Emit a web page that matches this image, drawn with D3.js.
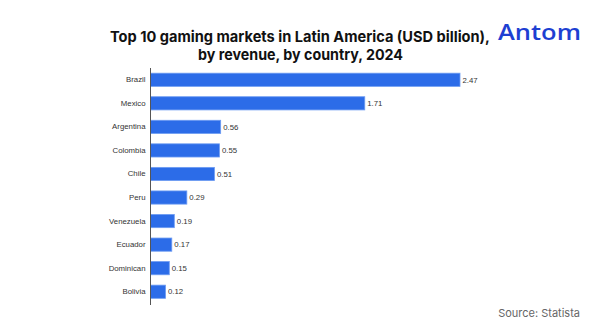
<!DOCTYPE html>
<html>
<head>
<meta charset="utf-8">
<script src="https://cdn.jsdelivr.net/npm/d3@7"></script>
<style>
  html, body { margin: 0; padding: 0; background: #fff; }
  svg { display: block; }
</style>
</head>
<body>
<div id="chart"></div>
<script>
var countries = ["Brazil", "Mexico", "Argentina", "Colombia", "Chile", "Peru", "Venezuela", "Ecuador", "Dominican", "Bolivia"];
var revenue = [2.47, 1.71, 0.56, 0.55, 0.51, 0.29, 0.19, 0.17, 0.15, 0.12];

var titleLines = ["Top 10 gaming markets in Latin America (USD billion),", "by revenue, by country, 2024"];
var sourceText = "Source: Statista";

var width = 600, height = 332;
var barColor = "#2c6ce8";
var labelFont = "'Liberation Sans', Arial, sans-serif";

var svg = d3.select("#chart")
    .append("svg")
    .attr("width", width)
    .attr("height", height);

var data = countries.map(function (c, i) {
    return { country: c, value: revenue[i] };
});

var x = d3.scaleLinear()
    .domain([0, 2.47])
    .range([150.5, 460]);

var y = d3.scaleBand()
    .domain(countries)
    .range([68, 303.5])
    .paddingInner(0.44)
    .paddingOuter(0.22);

// title
svg.append("text")
    .attr("x", 300)
    .attr("y", 42)
    .attr("text-anchor", "middle")
    .attr("font-family", "Inter, 'Open Sans', sans-serif")
    .attr("font-weight", 700)
    .attr("font-size", 15)
    .attr("fill", "#111")
    .attr("textLength", 380)
    .attr("lengthAdjust", "spacingAndGlyphs")
    .text(titleLines[0]);

svg.append("text")
    .attr("x", 300.5)
    .attr("y", 59.5)
    .attr("text-anchor", "middle")
    .attr("font-family", "Inter, 'Open Sans', sans-serif")
    .attr("font-weight", 700)
    .attr("font-size", 15)
    .attr("fill", "#111")
    .attr("textLength", 205)
    .attr("lengthAdjust", "spacingAndGlyphs")
    .text(titleLines[1]);

// logo
svg.append("text")
    .attr("x", 498)
    .attr("y", 40)
    .attr("font-family", "'Open Sans', Lato, sans-serif")
    .attr("font-weight", 600)
    .attr("font-size", 21)
    .attr("fill", "#1e3fd2")
    .attr("textLength", 83)
    .attr("lengthAdjust", "spacingAndGlyphs")
    .text("Antom");

// bars
svg.selectAll("rect.bar")
    .data(data)
    .enter().append("rect")
    .attr("class", "bar")
    .attr("x", x(0))
    .attr("y", function (d) { return y(d.country); })
    .attr("width", function (d) { return x(d.value) - x(0); })
    .attr("height", y.bandwidth())
    .attr("fill", barColor)
    .attr("stroke", "#6d9bf2")
    .attr("stroke-width", 0.8);

// value labels
svg.selectAll("text.value")
    .data(data)
    .enter().append("text")
    .attr("class", "value")
    .attr("x", function (d) { return x(d.value) + 2.5; })
    .attr("y", function (d) { return y(d.country) + y.bandwidth() / 2; })
    .attr("dy", "0.35em")
    .attr("font-family", labelFont)
    .attr("font-size", 7.8)
    .attr("fill", "#333")
    .text(function (d) { return d3.format(".2f")(d.value); });

// category axis
var yAxis = svg.append("g")
    .attr("transform", "translate(150.5,0)")
    .call(d3.axisLeft(y).tickSize(0).tickPadding(5));

yAxis.select(".domain").remove();
yAxis.selectAll("text")
    .attr("font-family", labelFont)
    .attr("font-size", 7.8)
    .attr("fill", "#333");

svg.append("line")
    .attr("x1", 150.5)
    .attr("x2", 150.5)
    .attr("y1", 68)
    .attr("y2", 305)
    .attr("stroke", "#555")
    .attr("stroke-width", 1);

// source
svg.append("text")
    .attr("x", 580)
    .attr("y", 317)
    .attr("text-anchor", "end")
    .attr("font-family", "Inter, 'Open Sans', sans-serif")
    .attr("font-size", 11)
    .attr("fill", "#666")
    .text(sourceText);
</script>
</body>
</html>
